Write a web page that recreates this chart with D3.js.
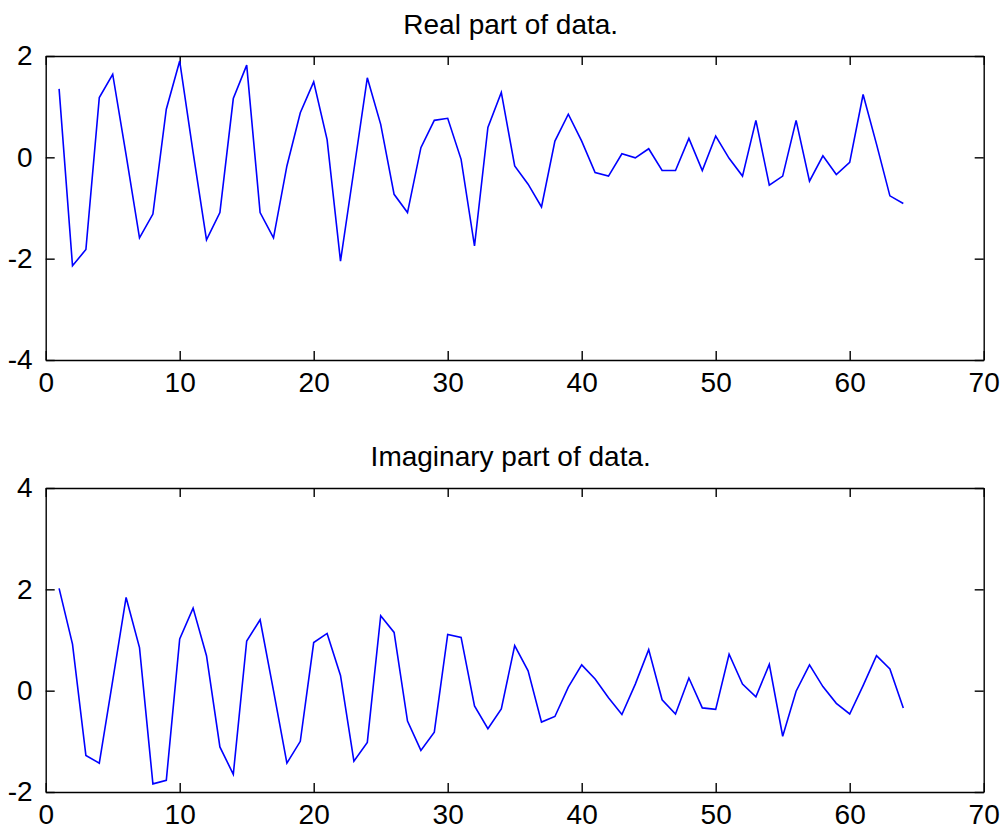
<!DOCTYPE html>
<html>
<head>
<meta charset="utf-8">
<script src="https://cdn.jsdelivr.net/npm/d3@7"></script>
<style>
  body { margin: 0; background: #fff; }
  text { font-family: "Liberation Sans", Arial, sans-serif; fill: #000; }
  .domain { stroke: #000; stroke-width: 1.4; }
  .tick line { stroke: #000; stroke-width: 1.4; }
</style>
</head>
<body>
<div id="area"></div>
<script>
const idx = d3.range(1, 65)

const realPart = [1.35,-2.14,-1.82,1.18,1.64,0.05,-1.59,-1.12,0.95,1.9,
  0.1,-1.63,-1.09,1.16,1.82,-1.09,-1.59,-0.17,0.88,1.49,
  0.35,-2.05,-0.25,1.57,0.65,-0.73,-1.09,0.19,0.73,0.77,
  -0.04,-1.75,0.59,1.28,-0.17,-0.53,-0.98,0.32,0.85,0.32,
  -0.30,-0.37,0.07,-0.01,0.17,-0.26,-0.26,0.375,-0.26,0.42,
  -0.02,-0.37,0.73,-0.55,-0.37,0.73,-0.47,0.03,-0.34,-0.1,
  1.24,0.26,-0.76,-0.91]

const imagPart = [2.02,0.92,-1.28,-1.43,0.2,1.84,0.85,-1.84,-1.77,1.02,
  1.63,0.69,-1.11,-1.65,0.98,1.40,0.0,-1.43,-1.0,0.95,
  1.13,0.3,-1.39,-1.02,1.48,1.15,-0.6,-1.18,-0.82,1.11,
  1.05,-0.3,-0.75,-0.36,0.89,0.39,-0.62,-0.51,0.07,0.51,
  0.23,-0.14,-0.47,0.13,0.81,-0.18,-0.46,0.25,-0.34,-0.37,
  0.72,0.13,-0.12,0.52,-0.9,-0.01,0.51,0.08,-0.25,-0.46,
  0.1,0.69,0.43,-0.34]

const xTicks = [0,10,20,30,40,50,60,70]
const realTicks = [-4,-2,0,2]
const imagTicks = [-2,0,2,4]

const svg = d3.select('#area')
            .append('svg')
            .attr('width', 1002)
            .attr('height', 829)

const left = 45.7, right = 983.7

const xScale = d3.scaleLinear()
              .domain([0,70])
              .range([left, right])

// plain labels with a hyphen minus, like the original
const plain = d => String(d)

// one subplot, MATLAB style box with inward ticks
function panel(values, yDomain, yTicks, top, bottom, title) {
  const yScale = d3.scaleLinear()
                .domain(yDomain)
                .range([bottom, top])
  const g = svg.append('g')

  g.append('g')
    .attr('transform', `translate(0,${bottom})`)
    .call(d3.axisBottom(xScale).tickValues(xTicks).tickSize(-9).tickSizeOuter(0).tickPadding(12).tickFormat(plain))
  g.append('g')
    .attr('transform', `translate(0,${top})`)
    .call(d3.axisTop(xScale).tickValues(xTicks).tickSize(-9).tickSizeOuter(0).tickFormat(''))
  g.append('g')
    .attr('transform', `translate(${left},0)`)
    .call(d3.axisLeft(yScale).tickValues(yTicks).tickSize(-9).tickSizeOuter(0).tickPadding(13).tickFormat(plain))
  g.append('g')
    .attr('transform', `translate(${right},0)`)
    .call(d3.axisRight(yScale).tickValues(yTicks).tickSize(-9).tickSizeOuter(0).tickFormat(''))

  g.selectAll('.tick text')
    .attr('font-size', 28)
    .attr('font-family', '"Liberation Sans", Arial, sans-serif')

  const line = d3.line()
                .x((d, i) => xScale(idx[i]))
                .y(d => yScale(d))

  g.append('path')
    .datum(values)
    .attr('d', line)
    .attr('fill', 'none')
    .attr('stroke', '#0000ff')
    .attr('stroke-width', 1.6)

  g.append('text')
    .attr('x', (left + right) / 2 - 4)
    .attr('y', top - 22)
    .attr('text-anchor', 'middle')
    .attr('font-size', 28)
    .text(title)
}

panel(realPart, [-4,2], realTicks, 56, 360, 'Real part of data.')
panel(imagPart, [-2,4], imagTicks, 488, 792, 'Imaginary part of data.')
</script>
</body>
</html>
